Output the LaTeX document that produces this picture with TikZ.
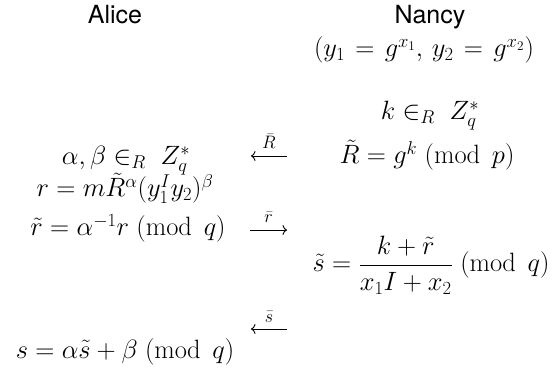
\RequirePackage{fix-cm}
\documentclass[tikz,border=0pt]{standalone}
\usepackage{fontspec}
\usetikzlibrary{arrows.meta}
\newfontfamily\hvfont{TeX Gyre Heros}
\begin{document}
\begin{tikzpicture}[x=1pt,y=-1pt,
  every node/.style={inner sep=0pt,outer sep=0pt,anchor=base,font=\fontsize{26.5}{32}\selectfont},
  who/.style={font=\fontsize{25}{30}\selectfont\hvfont},
  msg/.style={-{Computer Modern Rightarrow[length=4.5pt,width=10pt]},line width=0.9pt},
  lbl/.style={anchor=south,yshift=7pt,font=\fontsize{18}{22}\selectfont}]
\useasboundingbox (0,0) rectangle (554,379);
\node[who] (alice) at (115,24) {Alice};
\node[who] (nancy) at (430,24) {Nancy};
\node (keys) at (424,57) {\thickmuskip=7mu plus 2mu$(y_1 = g^{x_1},\, y_2 = g^{x_2})$};
\node (kR) at (430,120) {$k \in_R\; Z_q^*$};
\node (ab) at (126,165) {$\alpha, \beta \in_R\; Z_q^*$};
\node (Rt) at (427,164) {$\tilde R = g^k\;(\mathrm{mod}\;\,p)$};
\node (r) at (125,197) {$r = m\tilde R^\alpha (y_1^I y_2)^\beta$};
\node (rt) at (128,236) {$\tilde r = \alpha^{-1} r\;(\mathrm{mod}\;\,q)$};
\node (st) at (431,272) {$\displaystyle\tilde s = \frac{k+\tilde r}{x_1 I + x_2}\;(\mathrm{mod}\;\,q)$};
\node (s) at (125,358) {$s = \alpha\tilde s + \beta\;(\mathrm{mod}\;\,q)$};
\coordinate (a1r) at (287,156); \coordinate (a1l) at (251,156);
\coordinate (a2l) at (250,230); \coordinate (a2r) at (287,230);
\coordinate (a3r) at (287,329); \coordinate (a3l) at (251,329);
\draw[msg] (a1r) -- node[lbl] {$\bar R$} (a1l);
\draw[msg] (a2l) -- node[lbl] {$\bar r$} (a2r);
\draw[msg] (a3r) -- node[lbl] {$\bar s$} (a3l);
\end{tikzpicture}
\end{document}
